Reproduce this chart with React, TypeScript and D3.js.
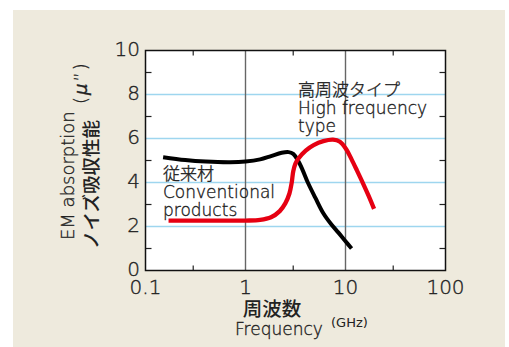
import React from "react";
import * as d3 from "d3";

const conventionalFreq = [0.15, 0.25, 0.4, 0.7, 1.0, 1.4, 1.8, 2.3, 2.7, 3.0, 3.3, 3.7, 4.2, 5.0, 6.0, 7.2, 8.5, 10, 11.5];
const conventionalVals = [5.15, 5.02, 4.95, 4.92, 4.95, 5.05, 5.2, 5.35, 5.38, 5.3, 5.05, 4.6, 4.0, 3.3, 2.6, 2.1, 1.72, 1.33, 1.0];

const highFreq = [0.17, 0.5, 1.0, 1.4, 1.8, 2.2, 2.5, 2.75, 2.9, 3.0, 3.15, 3.4, 4.0, 4.8, 6.0, 7.5, 8.8, 10.2, 11.5, 13, 15, 17, 19.3];
const highVals = [2.27, 2.27, 2.27, 2.3, 2.42, 2.7, 3.05, 3.5, 4.0, 4.5, 4.85, 5.1, 5.45, 5.7, 5.88, 5.95, 5.85, 5.5, 5.05, 4.55, 3.95, 3.4, 2.8];

const xTickVals = [0.1, 1, 10, 100];
const xTickLabels = ["0.1", "1", "10", "100"];
const xMinorTicks = [0.3, 3, 30];
const xDecadeLines = [1, 10];
const yTickVals = [0, 2, 4, 6, 8, 10];
const yGridVals = [2, 4, 6, 8];
const yMinorTicks = [1, 3, 5, 7, 9];

const convLabel = ["従来材", "Conventional", "products"];
const highLabel = ["高周波タイプ", "High frequency", "type"];

const LATIN = "'DejaVu Sans', 'Noto Sans CJK JP', sans-serif";
const CJK = "'Noto Sans CJK JP', sans-serif";
const TEXT = "#222";
const thin = { fill: TEXT, stroke: TEXT, strokeWidth: 0.35, fontWeight: 200 };

export default function App() {
  const x = d3.scaleLog().domain([0.1, 100]).range([145.5, 445.5]);
  const y = d3.scaleLinear().domain([0, 10]).range([270.5, 50.5]);
  const line = d3
    .line<[number, number]>()
    .x((d) => x(d[0]))
    .y((d) => y(d[1]))
    .curve(d3.curveCatmullRom.alpha(0.5));
  const conv = line(conventionalFreq.map((f, i) => [f, conventionalVals[i]]) as [number, number][]);
  const high = line(highFreq.map((f, i) => [f, highVals[i]]) as [number, number][]);
  const [x0, x1] = x.range();
  const [y0, y1] = y.range();

  const annot = (lines: string[], ax: number, ay: number) =>
    lines.map((s, i) => ({ s, x: ax, y: ay + i * 18 }));
  const annots = [...annot(convLabel, 163, 180), ...annot(highLabel, 298, 96)];

  return (
    <svg width={509} height={347} style={{ position: "fixed", left: 0, top: 0 }} fontFamily={LATIN}>
      <rect x={13} y={10} width={492} height={337} fill="#EEEADD" />
      <rect x={x0} y={y1} width={x1 - x0} height={y0 - y1} fill="#fff" />
      {yGridVals.map((v) => (
        <line key={"g" + v} x1={x0} x2={x1} y1={y(v)} y2={y(v)} stroke="#9ED6EF" strokeWidth={1.6} />
      ))}
      {xDecadeLines.map((v) => (
        <line key={"d" + v} x1={x(v)} x2={x(v)} y1={y1} y2={y0} stroke="#666" strokeWidth={1.4} />
      ))}
      <g {...thin} fontSize={17}>
        {annots.map((a, i) => (
          <text key={"a" + i} x={a.x} y={a.y}>{a.s}</text>
        ))}
      </g>
      {yMinorTicks.map((v) => (
        <g key={"ym" + v}>
          <line x1={x0} x2={x0 + 6} y1={y(v)} y2={y(v)} stroke="#222" strokeWidth={1.2} />
          <line x1={x1 - 6} x2={x1} y1={y(v)} y2={y(v)} stroke="#222" strokeWidth={1.2} />
        </g>
      ))}
      {xMinorTicks.map((v) => (
        <g key={"xm" + v}>
          <line x1={x(v)} x2={x(v)} y1={y0} y2={y0 - 5} stroke="#222" strokeWidth={1.2} />
          <line x1={x(v)} x2={x(v)} y1={y1} y2={y1 + 5} stroke="#222" strokeWidth={1.2} />
        </g>
      ))}
      <path d={conv ?? ""} fill="none" stroke="#000" strokeWidth={4} />
      <path d={high ?? ""} fill="none" stroke="#E60012" strokeWidth={4.3} />
      <rect x={x0} y={y1} width={x1 - x0} height={y0 - y1} fill="none" stroke="#111" strokeWidth={1.5} />
      {/* y tick labels */}
      <g {...thin} fontSize={20} textAnchor="end">
        {yTickVals.map((v) => (
          <text key={"yl" + v} x={140} y={y(v)} dy="0.25em">
            {v}
          </text>
        ))}
      </g>
      <g {...thin} fontSize={20} textAnchor="middle">
        {xTickVals.map((v, i) => (
          <text key={"xl" + v} x={x(v)} y={293.5}>
            {xTickLabels[i]}
          </text>
        ))}
      </g>
      {/* x title */}
      <text x={272} y={316} textAnchor="middle" fontSize={19.5} fontWeight={500} fill={TEXT} fontFamily={CJK}>
        周波数
      </text>
      <text x={279} y={335} textAnchor="middle" fontSize={17} {...thin}>
        Frequency
      </text>
      <text x={331} y={327} fontSize={13} fill={TEXT}>
        (GHz)
      </text>
      {/* y title */}
      <text transform="translate(74,240) rotate(-90)" fontSize={18} {...thin}>
        EM absorption
      </text>
      <text transform="translate(98,249) rotate(-90)" fontSize={18.5} fontWeight={500} fill={TEXT} fontFamily={CJK}>
        ノイズ吸収性能
      </text>
      <text transform="translate(87,104) rotate(-90)" fontSize={18} letterSpacing={2} {...thin}>
        (<tspan fontStyle="italic">μ</tspan>”)
      </text>
    </svg>
  );
}
